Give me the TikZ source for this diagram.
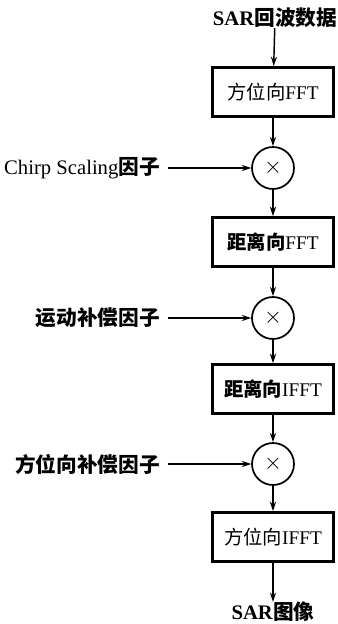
\documentclass[tikz,border=0pt]{standalone}
\usepackage{fontspec}
\setmainfont{Liberation Serif}
\newfontfamily\cjk{Noto Sans CJK SC}
\usetikzlibrary{arrows.meta}
\tikzset{
  flow/.style={line width=1.1pt, -{Stealth[length=7pt,width=4.6pt]}},
  procbox/.style={draw, line width=1.9pt, minimum width=91pt, minimum height=37pt, inner sep=0pt,
    font=\fontsize{14.5}{16}\selectfont},
  mult/.style={draw, circle, line width=1.3pt, minimum size=31.5pt, inner sep=0pt,
    font=\fontsize{16}{18}\selectfont},
  factor/.style={anchor=east, inner sep=0pt, font=\fontsize{15.5}{17}\selectfont},
  endtext/.style={inner sep=0pt, font=\fontsize{15.5}{17}\selectfont}
}
\newcommand{\zh}[1]{{\cjk #1}}
\newcommand{\zhb}[1]{{\cjk\bfseries #1}}
\begin{document}
\begin{tikzpicture}[x=0.75pt, y=-0.75pt]
  \useasboundingbox (0,0) rectangle (337,624);
  % main processing chain
  \node[endtext] (in) at (275,18) {\textbf{SAR}\zhb{回波数据}};
  \node[procbox] (b1) at (273,92) {\zh{方位向}FFT};
  \node[mult] (m1) at (273,168) {$\times$};
  \node[procbox] (b2) at (273,242) {\zhb{距离向}FFT};
  \node[mult] (m2) at (273,318) {$\times$};
  \node[procbox] (b3) at (273,389) {\zhb{距离向}IFFT};
  \node[mult] (m3) at (273,464) {$\times$};
  \node[procbox] (b4) at (273,537) {\zh{方位向}IFFT};
  \node[endtext] (out) at (273,612) {\textbf{SAR}\zhb{图像}};
  % phase factors fed into the multipliers
  \node[factor] (f1) at (160,168) {Chirp Scaling\zhb{因子}};
  \node[factor] (f2) at (160,318) {\zhb{运动补偿因子}};
  \node[factor] (f3) at (160,464) {\zhb{方位向补偿因子}};
  % connectors
  \draw[flow] (in) -- (b1);
  \draw[flow] (b1) -- (m1);
  \draw[flow] (m1) -- (b2);
  \draw[flow] (b2) -- (m2);
  \draw[flow] (m2) -- (b3);
  \draw[flow] (b3) -- (m3);
  \draw[flow] (m3) -- (b4);
  \draw[flow] (b4.south) -- (out.north);
  \draw[flow, shorten <=6pt] (f1) -- (m1);
  \draw[flow, shorten <=6pt] (f2) -- (m2);
  \draw[flow, shorten <=6pt] (f3) -- (m3);
\end{tikzpicture}
\end{document}
